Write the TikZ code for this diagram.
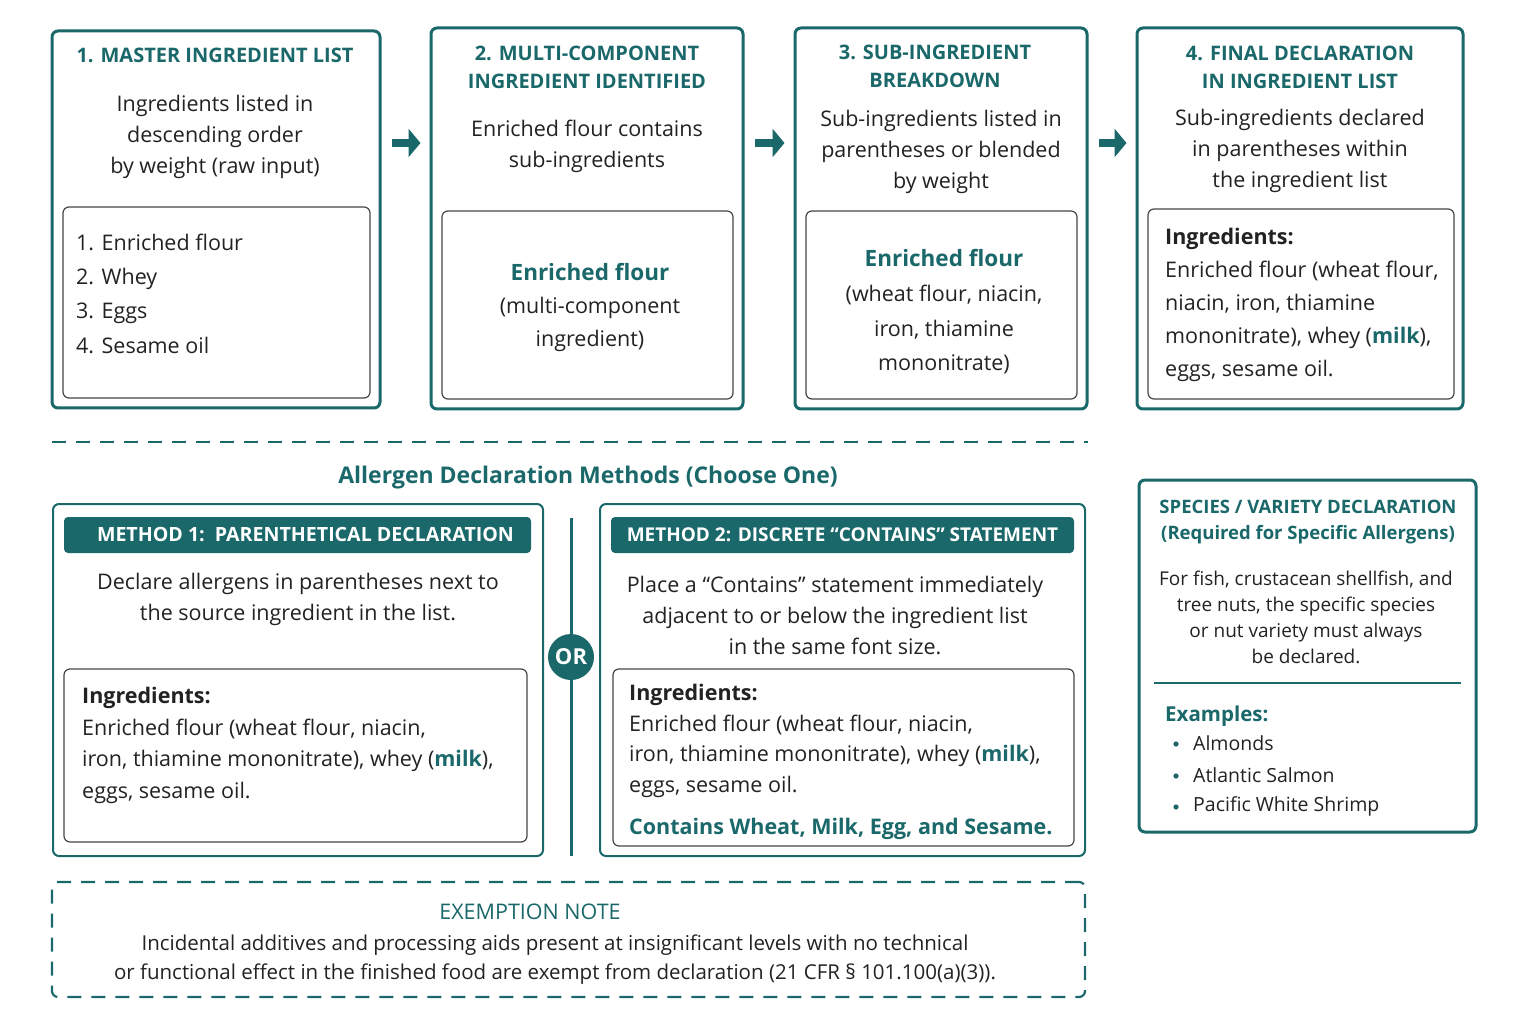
\documentclass[tikz,border=0pt]{standalone}
\usepackage{fontspec}
\setmainfont{Open Sans}
\usetikzlibrary{arrows.meta}
\definecolor{tealmain}{RGB}{26,104,106}
\definecolor{inkgray}{RGB}{34,34,34}
\definecolor{rulegray}{RGB}{70,70,70}
\newcommand{\fs}[2]{\fontsize{#1}{#2}\selectfont}
\tikzset{
  stagebox/.style={draw=tealmain, line width=3pt, rounded corners=6pt, fill=white},
  listbox/.style={draw=rulegray, line width=1.2pt, rounded corners=6pt},
  stagetitle/.style={text=tealmain, font=\fs{20}{28}\bfseries, align=center},
  bodytext/.style={text=inkgray, font=\fs{21.5}{31}, align=center, yshift=-3pt},
  listtext/.style={text=inkgray, font=\fs{21.5}{33}, align=left, anchor=west, inner sep=0pt, yshift=-3pt},
  methodbar/.style={fill=tealmain, rounded corners=4pt, text=white, font=\fs{19.6}{24}\bfseries},
  flowarrow/.style={draw=tealmain, line width=8pt, -{Triangle[length=12pt,width=28pt]}},
  tealbold/.style={text=tealmain, font=\bfseries, yshift=-3pt}
}
\begin{document}
\begin{tikzpicture}[x=1pt,y=-1pt]
\useasboundingbox (0,0) rectangle (1527,1024);
\fill[white] (0,0) rectangle (1527,1024);

% stage boxes (top row)
\node[stagebox, minimum width=328pt, minimum height=377pt] (b1) at (216,219.5) {};
\node[stagebox, minimum width=312pt, minimum height=381pt] (b2) at (587,218.5) {};
\node[stagebox, minimum width=292pt, minimum height=381pt] (b3) at (941,218.5) {};
\node[stagebox, minimum width=326pt, minimum height=381pt] (b4) at (1300,218.5) {};
\node[listbox, minimum width=307pt, minimum height=191pt] (l1) at (216.5,302.5) {};
\node[listbox, minimum width=291pt, minimum height=188pt] (l2) at (587.5,305) {};
\node[listbox, minimum width=271pt, minimum height=188pt] (l3) at (941.5,305) {};
\node[listbox, minimum width=306pt, minimum height=190pt] (l4) at (1301,304) {};

% arrows between the stages
\coordinate (arrowrow) at (0,143);
\foreach \a/\b in {b1/b2, b2/b3, b3/b4} % edit here for the arrows
\draw[flowarrow] ([xshift=10pt]\a.east |- arrowrow) -- ([xshift=-9pt]\b.west |- arrowrow);

% stage 1
\node[stagetitle] (t1) at (215,55) {1. MASTER INGREDIENT LIST};
\node[bodytext] (d1) at (215,134) {Ingredients listed in\\descending order\\by weight (raw input)};
\node[listtext, font=\fs{21.5}{34.3}] (i1) at (76,290.5) {1. Enriched flour\\2. Whey\\3. Eggs\\4. Sesame oil};

% stage 2
\node[stagetitle] (t2) at (587,67.5) {2. MULTI-COMPONENT\\INGREDIENT IDENTIFIED};
\node[bodytext] (d2) at (587,143.5) {Enriched flour contains\\sub-ingredients};
\node[bodytext, font=\fs{21.5}{33}] (i2) at (590,304) {\textcolor{tealmain}{\fs{22.5}{33}\bfseries Enriched flour}\\(multi-component\\ingredient)};

% stage 3
\node[stagetitle] (t3) at (935,66.5) {3. SUB-INGREDIENT\\BREAKDOWN};
\node[bodytext] (d3) at (941,148.5) {Sub-ingredients listed in\\parentheses or blended\\by weight};
\node[bodytext, font=\fs{21.5}{34.7}] (i3) at (944,309) {\textcolor{tealmain}{\fs{22.5}{34.7}\bfseries Enriched flour}\\(wheat flour, niacin,\\iron, thiamine\\mononitrate)};

% stage 4
\node[stagetitle] (t4) at (1300,67) {4. FINAL DECLARATION\\IN INGREDIENT LIST};
\node[bodytext] (d4) at (1300,148) {Sub-ingredients declared\\in parentheses within\\the ingredient list};
\node[listtext] (i4) at (1165,302) {\textbf{Ingredients:}\\Enriched flour (wheat flour,\\niacin, iron, thiamine\\mononitrate), whey (\textcolor{tealmain}{\textbf{milk}}),\\eggs, sesame oil.};

% divider and section title
\coordinate (divl) at (52,442);
\coordinate (divr) at (1088,442);
\draw[tealmain, line width=2pt, dash pattern=on 14pt off 10pt] (divl) -- (divr);
\node[tealbold, font=\fs{23}{28}\bfseries] (sect) at (588,475) {Allergen Declaration Methods (Choose One)};

% method 1
\node[stagebox, line width=2pt, minimum width=490pt, minimum height=352pt] (m1) at (298,680) {};
\node[methodbar, minimum width=467pt, minimum height=36pt] (h1) at (297.5,535) {\hspace{16pt}METHOD 1:\, PARENTHETICAL DECLARATION};
\node[bodytext] (md1) at (298,596.5) {Declare allergens in parentheses next to\\the source ingredient in the list.};
\node[listbox, minimum width=463pt, minimum height=173pt] (ml1) at (295.5,755.5) {};
\node[listtext, font=\fs{21.5}{31.7}] (mi1) at (82,742.5) {\textbf{Ingredients:}\\Enriched flour (wheat flour, niacin,\\iron, thiamine mononitrate), whey (\textcolor{tealmain}{\textbf{milk}}),\\eggs, sesame oil.};

% OR divider
\node[circle, fill=tealmain, minimum size=46pt, inner sep=0pt, text=white, font=\fs{22}{26}\bfseries] (orc) at (571,657) {OR};
\coordinate (ortop) at (571,518);
\coordinate (orbot) at (571,856);
\draw[tealmain, line width=3pt] (ortop) -- (orc.north);
\draw[tealmain, line width=3pt] (orc.south) -- (orbot);

% method 2
\node[stagebox, line width=2pt, minimum width=485pt, minimum height=352pt] (m2) at (842.5,680) {};
\node[methodbar, font=\fs{19}{24}\bfseries, minimum width=463pt, minimum height=36pt] (h2) at (842.5,535) {METHOD 2: DISCRETE \char"201C CONTAINS\char"201D\ STATEMENT};
\node[bodytext] (md2) at (835,612) {Place a \char"201C Contains\char"201D\ statement immediately\\adjacent to or below the ingredient list\\in the same font size.};
\node[listbox, minimum width=461pt, minimum height=177pt] (ml2) at (843.5,757.5) {};
\node[listtext, font=\fs{21.5}{30.7}] (mi2) at (629,738) {\textbf{Ingredients:}\\Enriched flour (wheat flour, niacin,\\iron, thiamine mononitrate), whey (\textcolor{tealmain}{\textbf{milk}}),\\eggs, sesame oil.};
\node[listtext, tealbold, font=\fs{21.5}{26}\bfseries] (ct2) at (629,823) {Contains Wheat, Milk, Egg, and Sesame.};

% species box
\node[stagebox, minimum width=337pt, minimum height=352pt] (sp) at (1307.5,656) {};
\node[stagetitle, font=\fs{18.5}{26}\bfseries, yshift=-3pt] (spt) at (1308,519) {SPECIES / VARIETY DECLARATION\\(Required for Specific Allergens)};
\node[bodytext, font=\fs{19}{26}] (spd) at (1306,614) {For fish, crustacean shellfish, and\\tree nuts, the specific species\\or nut variety must always\\be declared.};
\coordinate (sepl) at (1154,683);
\coordinate (sepr) at (1461,683);
\draw[tealmain, line width=2.5pt] (sepl) -- (sepr);
\node[listtext, tealbold, font=\fs{20.5}{26}\bfseries] (spx) at (1165,710) {Examples:};
\foreach \y/\t in {743/Almonds, 775/Atlantic Salmon, 806/Pacific White Shrimp} % edit here for the examples
{\fill[tealmain] (1176,\y+1) circle (2.6pt);
 \node[listtext, font=\fs{19.5}{26}, yshift=3pt] (ex\y) at (1193,\y) {\t};}

% exemption note
\node[draw=tealmain, line width=2.2pt, dash pattern=on 14pt off 10pt, rounded corners=6pt, minimum width=1033pt, minimum height=115pt] (ex) at (568.5,939.5) {};
\node[tealbold, font=\fs{21.5}{26}, yshift=2pt] (ext) at (530,911) {EXEMPTION NOTE};
\node[bodytext, font=\fs{20.5}{29.5}, yshift=1pt] (exd) at (555,957.5) {Incidental additives and processing aids present at insignificant levels with no technical\\or functional effect in the finished food are exempt from declaration (21 CFR \S\ 101.100(a)(3)).};
\end{tikzpicture}
\end{document}
